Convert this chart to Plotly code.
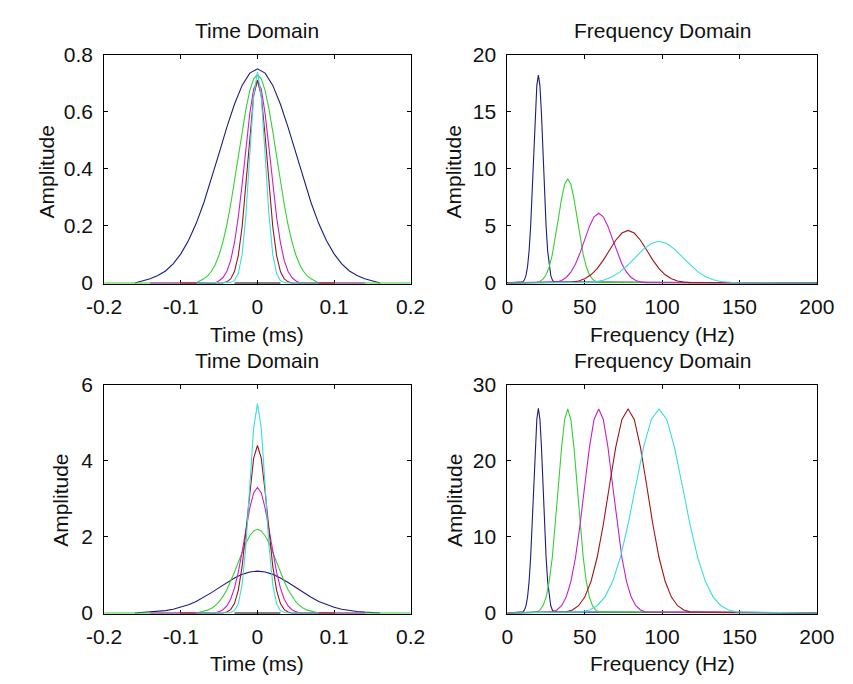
import plotly.graph_objects as go

W, H = 853, 684

# ---------------- data ----------------
# Time domain sample positions (ms)
t_blue = [-0.16, -0.15, -0.14, -0.13, -0.12, -0.11, -0.10, -0.09, -0.08, -0.07, -0.06, -0.05, -0.04, -0.03,
          -0.02, -0.01, 0.0, 0.01, 0.02, 0.03, 0.04, 0.05, 0.06, 0.07, 0.08, 0.09, 0.10, 0.11, 0.12, 0.13,
          0.14, 0.15, 0.16]
t_green = [-0.2, -0.08, -0.075, -0.07, -0.065, -0.06, -0.055, -0.05, -0.045, -0.04, -0.035, -0.03, -0.025,
           -0.02, -0.015, -0.01, -0.005, 0.0, 0.005, 0.01, 0.015, 0.02, 0.025, 0.03, 0.035, 0.04, 0.045,
           0.05, 0.055, 0.06, 0.065, 0.07, 0.075, 0.08, 0.2]
t_magenta = [-0.14, -0.055, -0.05, -0.045, -0.04, -0.035, -0.03, -0.025, -0.02, -0.015, -0.01, -0.005, 0.0,
             0.005, 0.01, 0.015, 0.02, 0.025, 0.03, 0.035, 0.04, 0.045, 0.05, 0.055, 0.14]
t_red = [-0.1, -0.045, -0.04, -0.035, -0.03, -0.025, -0.02, -0.015, -0.01, -0.005, 0.0, 0.005, 0.01, 0.015,
         0.02, 0.025, 0.03, 0.035, 0.04, 0.045, 0.1]
t_cyan = [-0.08, -0.04, -0.035, -0.03, -0.025, -0.02, -0.015, -0.01, -0.005, 0.0, 0.005, 0.01, 0.015, 0.02,
          0.025, 0.03, 0.035, 0.04, 0.08]
t_black = [-0.03, 0.03]

# Top-left amplitudes
tl_blue = [0, 0.008, 0.015, 0.026, 0.042, 0.067, 0.102, 0.149, 0.208, 0.281, 0.365, 0.455, 0.545, 0.626, 0.692,
           0.735, 0.75, 0.735, 0.692, 0.626, 0.545, 0.455, 0.365, 0.281, 0.208, 0.149, 0.102, 0.067, 0.042,
           0.026, 0.015, 0.008, 0]
tl_green = [0, 0, 0.008, 0.015, 0.025, 0.041, 0.065, 0.099, 0.145, 0.203, 0.274, 0.356, 0.443, 0.530, 0.610,
            0.674, 0.715, 0.73, 0.715, 0.674, 0.610, 0.530, 0.443, 0.356, 0.274, 0.203, 0.145, 0.099, 0.065,
            0.041, 0.025, 0.015, 0.008, 0, 0]
tl_magenta = [0, 0, 0.008, 0.019, 0.040, 0.078, 0.141, 0.231, 0.345, 0.474, 0.593, 0.679, 0.71, 0.679, 0.593,
              0.474, 0.345, 0.231, 0.141, 0.078, 0.040, 0.019, 0.008, 0, 0]
tl_red = [0, 0, 0.004, 0.014, 0.040, 0.096, 0.197, 0.345, 0.516, 0.655, 0.71, 0.655, 0.516, 0.345, 0.197,
          0.096, 0.040, 0.014, 0.004, 0, 0]
tl_cyan = [0, 0, 0.002, 0.008, 0.033, 0.100, 0.240, 0.449, 0.653, 0.74, 0.653, 0.449, 0.240, 0.100, 0.033,
           0.008, 0.002, 0, 0]
black_zero = [0, 0]

# Bottom-left amplitudes
bl_blue = [0, 0.012, 0.022, 0.038, 0.062, 0.098, 0.150, 0.219, 0.305, 0.412, 0.535, 0.667, 0.799, 0.918, 1.015,
           1.078, 1.10, 1.078, 1.015, 0.918, 0.799, 0.667, 0.535, 0.412, 0.305, 0.219, 0.150, 0.098, 0.062,
           0.038, 0.022, 0.012, 0]
bl_green = [0, 0, 0.024, 0.044, 0.075, 0.123, 0.196, 0.297, 0.436, 0.612, 0.825, 1.071, 1.335, 1.597, 1.837,
            2.031, 2.156, 2.2, 2.156, 2.031, 1.837, 1.597, 1.335, 1.071, 0.825, 0.612, 0.436, 0.297, 0.196,
            0.123, 0.075, 0.044, 0.024, 0, 0]
bl_magenta = [0, 0, 0.036, 0.086, 0.185, 0.363, 0.653, 1.073, 1.607, 2.201, 2.756, 3.155, 3.3, 3.155, 2.756,
              2.201, 1.607, 1.073, 0.653, 0.363, 0.185, 0.086, 0.036, 0, 0]
bl_red = [0, 0, 0.026, 0.088, 0.246, 0.594, 1.223, 2.143, 3.194, 4.061, 4.4, 4.061, 3.194, 2.143, 1.223,
          0.594, 0.246, 0.088, 0.026, 0, 0]
bl_cyan = [0, 0, 0.011, 0.061, 0.242, 0.743, 1.788, 3.339, 4.851, 5.5, 4.851, 3.339, 1.788, 0.743, 0.242,
           0.061, 0.011, 0, 0]

# Frequency sample positions (Hz)
f_blue = [0, 10, 11, 12, 13, 14, 15, 16, 17, 18, 19, 20, 21, 22, 23, 24, 25, 26, 27, 28, 29, 30, 200]
f_green = [0, 19, 21, 23, 25, 27, 29, 31, 33, 35, 37, 39, 41, 43, 45, 47, 49, 51, 53, 55, 57, 59, 200]
f_magenta = [0, 29, 32, 35, 38, 41, 44, 47, 50, 53, 56, 59, 62, 65, 68, 71, 74, 77, 80, 83, 86, 89, 200]
f_red = [0, 38, 42, 46, 50, 54, 58, 62, 66, 70, 74, 78, 82, 86, 90, 94, 98, 102, 106, 110, 114, 118, 200]
f_cyan = [0, 48, 53, 58, 63, 68, 73, 78, 83, 88, 93, 98, 103, 108, 113, 118, 123, 128, 133, 138, 143, 148, 200]

# Top-right amplitudes
tr_blue = [0, 0.10, 0.27, 0.66, 1.42, 2.8, 4.95, 7.9, 11.4, 14.8, 17.3, 18.2, 17.3, 14.8, 11.4, 7.9, 4.95, 2.8,
           1.42, 0.66, 0.27, 0.10, 0]
tr_green = [0, 0.05, 0.13, 0.33, 0.71, 1.40, 2.48, 3.96, 5.70, 7.39, 8.64, 9.1, 8.64, 7.39, 5.70, 3.96, 2.48,
            1.40, 0.71, 0.33, 0.13, 0.05, 0]
tr_magenta = [0, 0.03, 0.09, 0.22, 0.48, 0.94, 1.66, 2.65, 3.82, 4.95, 5.79, 6.1, 5.79, 4.95, 3.82, 2.65, 1.66,
              0.94, 0.48, 0.22, 0.09, 0.03, 0]
tr_red = [0, 0.03, 0.07, 0.17, 0.36, 0.71, 1.25, 2.0, 2.88, 3.74, 4.37, 4.6, 4.37, 3.74, 2.88, 2.0, 1.25, 0.71,
          0.36, 0.17, 0.07, 0.03, 0]
tr_cyan = [0, 0.02, 0.05, 0.13, 0.28, 0.56, 0.99, 1.59, 2.28, 2.96, 3.46, 3.65, 3.46, 2.96, 2.28, 1.59, 0.99,
           0.56, 0.28, 0.13, 0.05, 0.02, 0]

# Bottom-right amplitudes
br_blue = [0, 0.15, 0.40, 0.96, 2.09, 4.13, 7.29, 11.66, 16.78, 21.76, 25.43, 26.9, 25.43, 21.76, 16.78, 11.66,
           7.29, 4.13, 2.09, 0.96, 0.40, 0.15, 0]
br_green = [0, 0.15, 0.40, 0.96, 2.09, 4.13, 7.29, 11.66, 16.78, 21.76, 25.43, 26.8, 25.43, 21.76, 16.78, 11.66,
            7.29, 4.13, 2.09, 0.96, 0.40, 0.15, 0]
br_magenta = [0, 0.15, 0.40, 0.96, 2.09, 4.13, 7.29, 11.66, 16.78, 21.76, 25.43, 26.8, 25.43, 21.76, 16.78,
              11.66, 7.29, 4.13, 2.09, 0.96, 0.40, 0.15, 0]
br_red = [0, 0.15, 0.40, 0.96, 2.09, 4.13, 7.29, 11.66, 16.78, 21.76, 25.43, 26.8, 25.43, 21.76, 16.78, 11.66,
          7.29, 4.13, 2.09, 0.96, 0.40, 0.15, 0]
br_cyan = [0, 0.15, 0.40, 0.96, 2.09, 4.13, 7.29, 11.66, 16.78, 21.76, 25.43, 26.8, 25.43, 21.76, 16.78, 11.66,
           7.29, 4.13, 2.09, 0.96, 0.40, 0.15, 0]

# Tick labels
time_ticks = [-0.2, -0.1, 0, 0.1, 0.2]
time_ticktext = ["-0.2", "-0.1", "0", "0.1", "0.2"]
freq_ticks = [0, 50, 100, 150, 200]
freq_ticktext = ["0", "50", "100", "150", "200"]
tl_yticks = [0, 0.2, 0.4, 0.6, 0.8]
tl_yticktext = ["0", "0.2", "0.4", "0.6", "0.8"]
tr_yticks = [0, 5, 10, 15, 20]
tr_yticktext = ["0", "5", "10", "15", "20"]
bl_yticks = [0, 2, 4, 6]
bl_yticktext = ["0", "2", "4", "6"]
br_yticks = [0, 10, 20, 30]
br_yticktext = ["0", "10", "20", "30"]

# ---------------- style ----------------
C_BLUE = "#1c1c7c"
C_GREEN = "#35d035"
C_MAGENTA = "#c81ec8"
C_RED = "#a01418"
C_CYAN = "#3adcdc"
C_BLACK = "#000000"
FONT = "Liberation Sans"
FS_TICK = 21
FS_TEXT = 21
TXT = "#111111"

fig = go.Figure()


def add(x, y, color, xa, ya):
    fig.add_trace(go.Scatter(x=x, y=y, mode="lines", line=dict(color=color, width=1.1),
                             xaxis=xa, yaxis=ya, showlegend=False, hoverinfo="skip"))


# top-left
for x, y, c in [(t_blue, tl_blue, C_BLUE), (t_green, tl_green, C_GREEN), (t_magenta, tl_magenta, C_MAGENTA),
                (t_red, tl_red, C_RED), (t_cyan, tl_cyan, C_CYAN), (t_black, black_zero, C_BLACK)]:
    add(x, y, c, "x", "y")
# top-right
for x, y, c in [(f_blue, tr_blue, C_BLUE), (f_green, tr_green, C_GREEN), (f_magenta, tr_magenta, C_MAGENTA),
                (f_red, tr_red, C_RED), (f_cyan, tr_cyan, C_CYAN)]:
    add(x, y, c, "x2", "y2")
# bottom-left
for x, y, c in [(t_blue, bl_blue, C_BLUE), (t_green, bl_green, C_GREEN), (t_magenta, bl_magenta, C_MAGENTA),
                (t_red, bl_red, C_RED), (t_cyan, bl_cyan, C_CYAN), (t_black, black_zero, C_BLACK)]:
    add(x, y, c, "x3", "y3")
# bottom-right
for x, y, c in [(f_blue, br_blue, C_BLUE), (f_green, br_green, C_GREEN), (f_magenta, br_magenta, C_MAGENTA),
                (f_red, br_red, C_RED), (f_cyan, br_cyan, C_CYAN)]:
    add(x, y, c, "x4", "y4")


def px_x(p):
    return p / W


def px_y(p):
    return 1 - p / H


common = dict(showline=True, linecolor="black", linewidth=1, mirror="ticks", ticks="inside", ticklen=4,
              tickcolor="black", tickwidth=1, showgrid=False, zeroline=False, layer="below traces",
              tickfont=dict(family=FONT, size=FS_TICK, color=TXT), fixedrange=True)

L_LEFT, L_RIGHT = 90, 410
R_LEFT, R_RIGHT = 511, 834
T_TOP, T_BOT = 44, 281
B_TOP, B_BOT = 385, 622
XSO = 4  # x tick label standoff
YSO = 6  # y tick label standoff

fig.update_layout(
    width=W, height=H, margin=dict(l=0, r=0, t=0, b=0),
    paper_bgcolor="white", plot_bgcolor="white",
    xaxis=dict(common, domain=[px_x(L_LEFT), px_x(L_RIGHT)], anchor="y", range=[-0.2, 0.2],
               tickvals=time_ticks, ticktext=time_ticktext, ticklabelstandoff=XSO),
    yaxis=dict(common, domain=[px_y(T_BOT), px_y(T_TOP)], anchor="x", range=[-0.0035, 0.8],
               tickvals=tl_yticks, ticktext=tl_yticktext, ticklabelstandoff=YSO),
    xaxis2=dict(common, domain=[px_x(R_LEFT), px_x(R_RIGHT)], anchor="y2", range=[0, 200],
                tickvals=freq_ticks, ticktext=freq_ticktext, ticklabelstandoff=XSO),
    yaxis2=dict(common, domain=[px_y(T_BOT), px_y(T_TOP)], anchor="x2", range=[-0.09, 20],
                tickvals=tr_yticks, ticktext=tr_yticktext, ticklabelstandoff=YSO),
    xaxis3=dict(common, domain=[px_x(L_LEFT), px_x(L_RIGHT)], anchor="y3", range=[-0.2, 0.2],
                tickvals=time_ticks, ticktext=time_ticktext, ticklabelstandoff=XSO),
    yaxis3=dict(common, domain=[px_y(B_BOT), px_y(B_TOP)], anchor="x3", range=[-0.026, 6],
                tickvals=bl_yticks, ticktext=bl_yticktext, ticklabelstandoff=YSO),
    xaxis4=dict(common, domain=[px_x(R_LEFT), px_x(R_RIGHT)], anchor="y4", range=[0, 200],
                tickvals=freq_ticks, ticktext=freq_ticktext, ticklabelstandoff=XSO),
    yaxis4=dict(common, domain=[px_y(B_BOT), px_y(B_TOP)], anchor="x4", range=[-0.13, 30],
                tickvals=br_yticks, ticktext=br_yticktext, ticklabelstandoff=YSO),
)

ann_font = dict(family=FONT, size=FS_TEXT, color=TXT)
annotations = [
    # titles
    dict(text="Time Domain", x=px_x((L_LEFT + L_RIGHT) / 2), y=px_y(19.5)),
    dict(text="Frequency Domain", x=px_x((R_LEFT + R_RIGHT) / 2), y=px_y(19.5)),
    dict(text="Time Domain", x=px_x((L_LEFT + L_RIGHT) / 2), y=px_y(360)),
    dict(text="Frequency Domain", x=px_x((R_LEFT + R_RIGHT) / 2), y=px_y(360)),
    # x-axis titles
    dict(text="Time (ms)", x=px_x((L_LEFT + L_RIGHT) / 2), y=px_y(333)),
    dict(text="Frequency (Hz)", x=px_x((R_LEFT + R_RIGHT) / 2), y=px_y(333)),
    dict(text="Time (ms)", x=px_x((L_LEFT + L_RIGHT) / 2), y=px_y(673)),
    dict(text="Frequency (Hz)", x=px_x((R_LEFT + R_RIGHT) / 2), y=px_y(673)),
    # y-axis titles
    dict(text="Amplitude", x=px_x(30), y=px_y(165), textangle=-90),
    dict(text="Amplitude", x=px_x(455), y=px_y(165), textangle=-90),
    dict(text="Amplitude", x=px_x(45), y=px_y(505), textangle=-90),
    dict(text="Amplitude", x=px_x(455.5), y=px_y(505), textangle=-90),
]
for a in annotations:
    a.update(xref="paper", yref="paper", xanchor="center", yanchor="middle", showarrow=False,
             font=ann_font)
fig.update_layout(annotations=annotations)

fig.write_html("out.html", config={"displayModeBar": False})
